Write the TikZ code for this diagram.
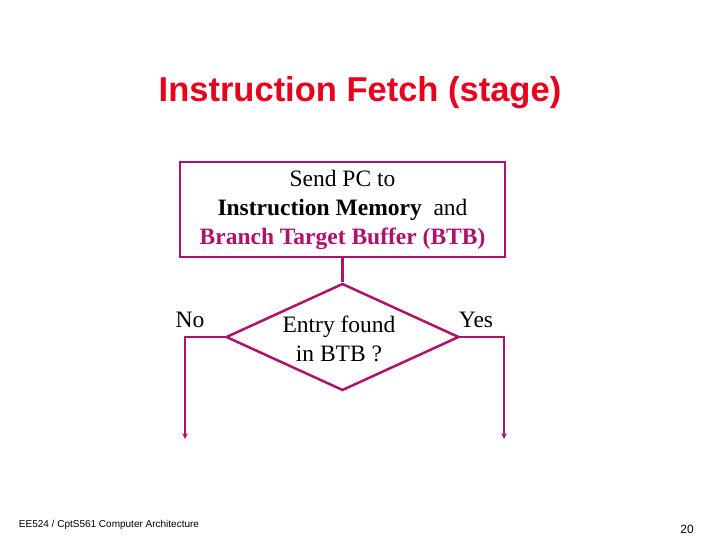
\documentclass[tikz,border=0pt]{standalone}
\usepackage{fontspec}
\setmainfont{Liberation Serif}
\newfontfamily\arialfont{Liberation Sans}
\usetikzlibrary{shapes.geometric, arrows}
\definecolor{plum}{HTML}{B0106E}
\definecolor{titlered}{HTML}{E8001C}
\tikzstyle{process} = [rectangle,
minimum height=95pt,
minimum width=325pt,
text centered,
align=center,
line width=2.5pt,
draw=plum,
font=\fontsize{23.5}{29}\selectfont]
\tikzstyle{decision} = [diamond,
minimum height=107pt,
minimum width=233pt,
inner sep=0pt,
text centered,
align=center,
line width=2.5pt,
draw=plum]
\tikzstyle{arrow} = [line width=1.5pt,draw=plum,->,>=stealth,shorten >=-2pt]
\tikzstyle{label} = [font=\fontsize{23.5}{29}\selectfont]
\begin{document}
\begin{tikzpicture}[x=1pt,y=-1pt]
    \useasboundingbox (0,0) rectangle (720,540);
    \node (title) at (360,93) [font=\arialfont\bfseries\fontsize{34.5}{40}\selectfont, text=titlered] {Instruction Fetch (stage)};
    \node (send) at (342.5,209.5) [process] {Send PC to\\ \textbf{Instruction Memory}\ \ and\\ \textcolor{plum}{\textbf{Branch Target Buffer (BTB)}}};
    \node (entry) at (342.5,337) [decision] {};
    \node (entrytext) at (339,339) [align=center,label] {Entry found\\ in BTB ?};
    \coordinate (nocorner) at (185,337);
    \coordinate (noend) at (185,437);
    \coordinate (yescorner) at (504,337);
    \coordinate (yesend) at (504,437);
    \node (no) at (190,320) [label] {No};
    \node (yes) at (476,320) [label] {Yes};
    \node (footer) at (109,525) [font=\arialfont\fontsize{10}{12}\selectfont] {EE524 / CptS561 Computer Architecture};
    \node (page) at (687,529) [font=\arialfont\fontsize{12}{14}\selectfont] {20};

    \draw [line width=2.5pt, draw=plum] (send.south) -- (entry.north);
    \draw [arrow] (entry.west) -- (nocorner) -- (noend);
    \draw [arrow] (entry.east) -- (yescorner) -- (yesend);
\end{tikzpicture}
\end{document}
